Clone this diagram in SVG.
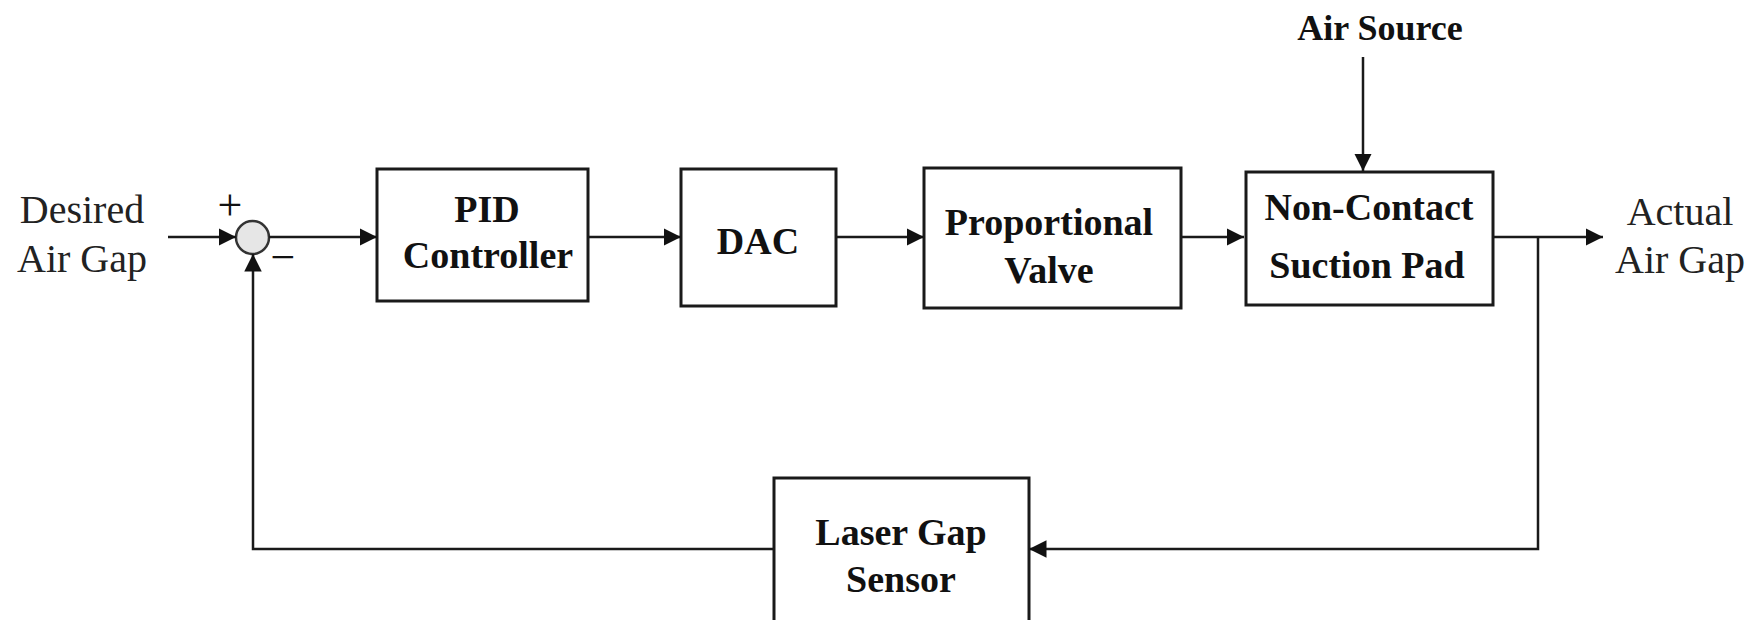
<svg xmlns="http://www.w3.org/2000/svg" width="1760" height="620" viewBox="0 0 1760 620">
  <style>
    .box { fill: #ffffff; stroke: #1a1a1a; stroke-width: 3; }
    .wire { fill: none; stroke: #1a1a1a; stroke-width: 2.5; }
    .lbl { font-family: "Liberation Serif", "Times New Roman", serif; font-size: 38px; font-weight: bold; fill: #111; text-anchor: middle; }
    .sig { font-family: "Liberation Serif", "Times New Roman", serif; font-size: 40px; fill: #222; text-anchor: middle; }
    .sign { font-family: "Liberation Serif", "Times New Roman", serif; font-size: 44px; fill: #111; text-anchor: middle; }
  </style>
  <defs>
    <marker id="arrow" viewBox="0 0 10 10" refX="10" refY="5" markerWidth="7" markerHeight="7.5" markerUnits="strokeWidth" orient="auto">
      <path d="M0,0 L10,5 L0,10 z" fill="#111"/>
    </marker>
  </defs>
  <rect width="1760" height="620" fill="#ffffff"/>

  <!-- signal labels -->
  <text class="sig" x="82" y="223">Desired</text>
  <text class="sig" x="82" y="272">Air Gap</text>
  <text class="sig" x="1680" y="225">Actual</text>
  <text class="sig" x="1680" y="273">Air Gap</text>
  <text class="lbl" x="1380" y="40" style="font-size:36px">Air Source</text>

  <!-- summing junction -->
  <g id="sum">
    <circle cx="252.5" cy="237.5" r="16.5" fill="#e6e6e6" stroke="#333" stroke-width="2.5"/>
    <text class="sign" x="230" y="220">+</text>
    <text class="sign" x="283" y="272">−</text>
  </g>

  <g id="pid">
    <rect class="box" x="377" y="169" width="211" height="132"/>
    <text class="lbl" x="487" y="222">PID</text>
    <text class="lbl" x="488" y="268">Controller</text>
  </g>

  <g id="dac">
    <rect class="box" x="681" y="169" width="155" height="137"/>
    <text class="lbl" x="758" y="254">DAC</text>
  </g>

  <g id="valve">
    <rect class="box" x="924" y="168" width="257" height="140"/>
    <text class="lbl" x="1049" y="235">Proportional</text>
    <text class="lbl" x="1049" y="283">Valve</text>
  </g>

  <g id="pad">
    <rect class="box" x="1246" y="172" width="247" height="133"/>
    <text class="lbl" x="1369" y="220">Non-Contact</text>
    <text class="lbl" x="1367" y="278">Suction Pad</text>
  </g>

  <g id="sensor">
    <rect class="box" x="774" y="478" width="255" height="150"/>
    <text class="lbl" x="901" y="545">Laser Gap</text>
    <text class="lbl" x="901" y="592">Sensor</text>
  </g>

  <g id="connectors">
    <line class="wire" x1="168" y1="237" x2="236" y2="237" marker-end="url(#arrow)"/>
    <line class="wire" x1="269" y1="237" x2="377" y2="237" marker-end="url(#arrow)"/>
    <line class="wire" x1="588" y1="237" x2="681" y2="237" marker-end="url(#arrow)"/>
    <line class="wire" x1="836" y1="237" x2="924" y2="237" marker-end="url(#arrow)"/>
    <line class="wire" x1="1181" y1="237" x2="1244" y2="237" marker-end="url(#arrow)"/>
    <line class="wire" x1="1363" y1="57" x2="1363" y2="171" marker-end="url(#arrow)"/>
    <line class="wire" x1="1493" y1="237" x2="1603" y2="237" marker-end="url(#arrow)"/>
    <polyline class="wire" points="1538,237 1538,549 1029,549" marker-end="url(#arrow)"/>
    <polyline class="wire" points="774,549 253,549 253,254" marker-end="url(#arrow)"/>
  </g>
</svg>
